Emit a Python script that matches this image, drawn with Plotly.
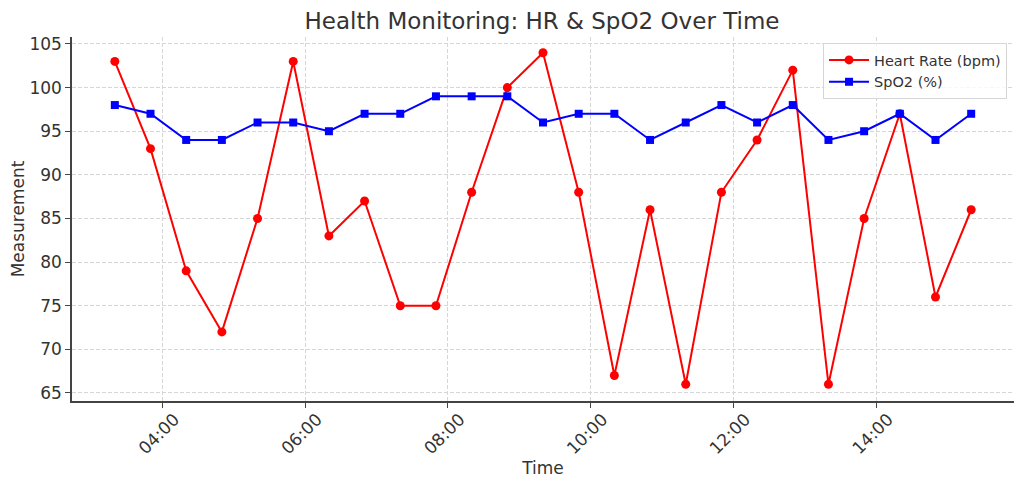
import plotly.graph_objects as go
import pandas as pd

times = pd.date_range("2024-01-01 03:20", periods=25, freq="30min")
heart_rate = [103, 93, 79, 72, 85, 103, 83, 87, 75, 75, 88, 100, 104, 88, 67, 86, 66, 88, 94, 102, 66, 85, 97, 76, 86]
spo2 = [98, 97, 94, 94, 96, 96, 95, 97, 97, 99, 99, 99, 96, 97, 97, 94, 96, 98, 96, 98, 94, 95, 97, 94, 97]

fig = go.Figure()
fig.add_trace(go.Scatter(x=times, y=heart_rate, mode="lines+markers", name="Heart Rate (bpm)",
                         line=dict(color="#ff0000", width=2), marker=dict(symbol="circle", size=9, color="#ff0000")))
fig.add_trace(go.Scatter(x=times, y=spo2, mode="lines+markers", name="SpO2 (%)",
                         line=dict(color="#0000ff", width=2), marker=dict(symbol="square", size=8, color="#0000ff")))

fig.update_layout(
    width=1016, height=478,
    margin=dict(l=64, r=10, t=29, b=85),
    paper_bgcolor="white", plot_bgcolor="white",
    font=dict(family="DejaVu Sans", color="#333333"),
    title=dict(text="Health Monitoring: HR & SpO2 Over Time", x=0.5256, xanchor="center",
               yref="container", y=1 - 5 / 478, yanchor="top", font=dict(size=23, color="#333333")),
    showlegend=True,
    legend=dict(x=0.9926, y=0.9835, xanchor="right", yanchor="top", bgcolor="rgba(255,255,255,0.8)",
                bordercolor="#d6d6d6", borderwidth=1, font=dict(size=14.5, color="#333333"),
                tracegroupgap=0, itemwidth=40),
)
fig.update_xaxes(
    range=[pd.Timestamp("2024-01-01 02:44"), pd.Timestamp("2024-01-01 15:56")],
    tickformat="%H:%M", dtick=2 * 3600 * 1000, tick0="2024-01-01 00:00",
    tickangle=-45, tickfont=dict(size=17, color="#333333"),
    ticklabelshift=12, ticklabelstandoff=-5,
    showgrid=True, gridcolor="#d6d6d6", griddash="4px,2px", gridwidth=1,
    showline=True, linecolor="#444444", linewidth=1.5,
    ticks="outside", ticklen=5, tickcolor="#444444",
    title=dict(text="Time", font=dict(size=17, color="#333333"), standoff=0),
    zeroline=False, automargin=False,
)
fig.update_yaxes(
    range=[64.08, 105.8], dtick=5, tick0=65,
    tickfont=dict(size=17, color="#333333"),
    showgrid=True, gridcolor="#d6d6d6", griddash="4px,2px", gridwidth=1,
    showline=True, linecolor="#444444", linewidth=1.5,
    ticks="outside", ticklen=5, tickcolor="#444444",
    title=dict(text="Measurement", font=dict(size=17, color="#333333"), standoff=9),
    zeroline=False, automargin=False,
)

fig.write_html("out.html")
